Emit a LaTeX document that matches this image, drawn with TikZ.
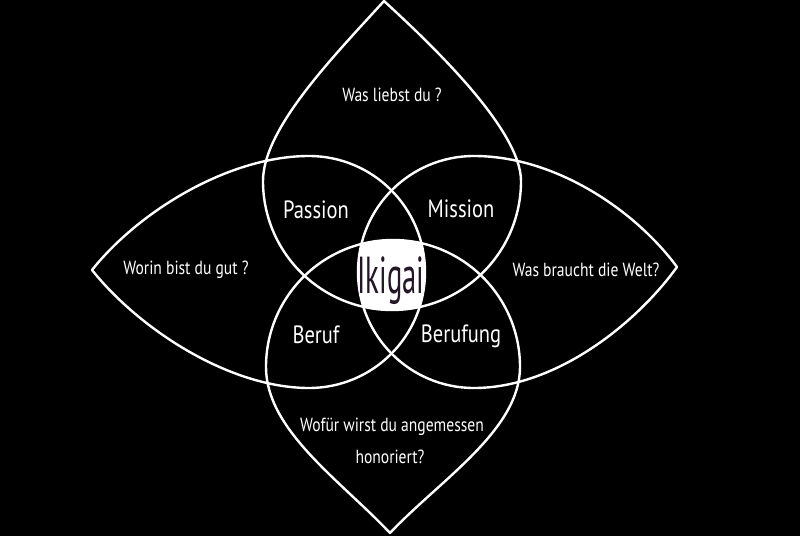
\documentclass[tikz,border=0pt]{standalone}
\usepackage{fontspec}
\newfontfamily\handfont[FakeStretch=0.82]{PT Sans}
\newfontfamily\ikifont[FakeStretch=0.55]{PT Sans}
\definecolor{ikitext}{RGB}{35,22,38}
\begin{document}
\begin{tikzpicture}[x=1bp,y=-1bp,
  petal/.style={draw=white,line width=2.4bp,line join=round},
  outer/.style={text=white,inner sep=0pt,anchor=base,font=\handfont\fontsize{19bp}{22bp}\selectfont},
  inner/.style={text=white,inner sep=0pt,anchor=base,font=\handfont\fontsize{25bp}{28bp}\selectfont},
  center/.style={text=ikitext,inner sep=0pt,anchor=base,font=\ikifont\fontsize{52bp}{56bp}\selectfont}]
\useasboundingbox (0,0) rectangle (800,536);
\fill[black] (0,0) rectangle (800,536);
% white centre: intersection of the four circles
\begin{scope}
  \clip (392,181) circle[radius=129bp];
  \clip (393,367) circle[radius=127bp];
  \clip (309,272) circle[radius=116bp];
  \fill[white] (474,272) circle[radius=116bp];
\end{scope}
% top shape
\draw[petal] (263,181) arc[start angle=180,end angle=360,radius=129bp]
  .. controls (521,130) and (432,45) .. (384,1)
  .. controls (335,55) and (263,128) .. (263,181) -- cycle;
% left shape
\draw[petal] (309,156) arc[start angle=90,end angle=-90,radius=116bp]
  .. controls (230,388) and (140,330) .. (92,270)
  .. controls (140,210) and (230,156) .. (309,156) -- cycle;
% right shape
\draw[petal] (474,156) arc[start angle=90,end angle=270,radius=116bp]
  .. controls (555,388) and (635,325) .. (677,267)
  .. controls (635,210) and (555,156) .. (474,156) -- cycle;
% bottom shape
\draw[petal] (266,367) arc[start angle=180,end angle=0,radius=127bp]
  .. controls (520,430) and (440,480) .. (390,533)
  .. controls (340,480) and (266,430) .. (266,367) -- cycle;
% texts
\node[outer] (q1) at (392,102) {Was liebst du ?};
\node[outer] (q2) at (186,275) {Worin bist du gut ?};
\node[outer] (q3) at (586,277) {Was braucht die Welt?};
\node[outer] (q4a) at (392,431) {Wofür wirst du angemessen};
\node[outer] (q4b) at (390,463) {honoriert?};
\node[inner] (passion) at (316,219) {Passion};
\node[inner] (mission) at (461,218) {Mission};
\node[inner] (beruf) at (316,343) {Beruf};
\node[inner] (berufung) at (461,342) {Berufung};
\node[center] (ikigai) at (391,294) {Ikigai};
\end{tikzpicture}
\end{document}
